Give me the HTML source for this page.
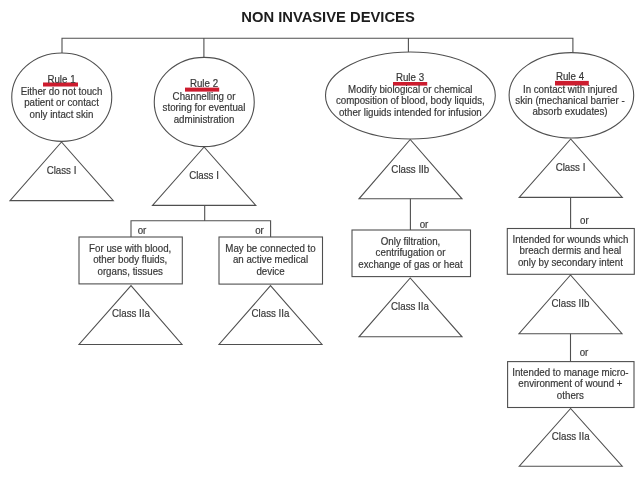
<!DOCTYPE html>
<html><head><meta charset="utf-8"><title>Non invasive devices</title>
<style>
html,body{margin:0;padding:0;background:#fff;}
body{width:640px;height:480px;overflow:hidden;}
svg{display:block;font-family:"Liberation Sans",sans-serif;}
.s *{fill:none;stroke:#505050;stroke-width:1.1;}
.t text{fill:#363636;stroke:#363636;stroke-width:0.36;}
.r rect{fill:#cc1a2e;}
</style></head><body>
<svg width="640" height="480" viewBox="0 0 640 480">
<defs><filter id="bl" x="0" y="0" width="640" height="480" filterUnits="userSpaceOnUse"><feGaussianBlur stdDeviation="0.75"/></filter><filter id="bt" x="0" y="0" width="640" height="480" filterUnits="userSpaceOnUse"><feGaussianBlur stdDeviation="0.38"/></filter></defs>
<rect width="640" height="480" fill="#fff"/>
<g class="s" filter="url(#bl)">
<path d="M62,53 V38.3 H572.9 V53 M203.9,38.3 V58 M408.4,38.3 V52"/>
<ellipse cx="61.75" cy="97.2" rx="50" ry="44.2"/>
<ellipse cx="204.25" cy="102" rx="50" ry="44.6"/>
<ellipse cx="410.4" cy="95.5" rx="84.9" ry="43.5"/>
<ellipse cx="571.4" cy="95.3" rx="62.3" ry="42.7"/>
<polygon points="61.5,142 10,200.6 113.3,200.6"/>
<polygon points="204.1,147 152.5,205.4 255.8,205.4"/>
<polygon points="410.2,139.5 359,198.8 462,198.8"/>
<polygon points="570.7,139 519.2,197.4 622.3,197.4"/>
<polygon points="131,285.6 79,344.5 182,344.5"/>
<polygon points="270.5,285.7 219,344.5 322,344.5"/>
<polygon points="410.2,278 359,336.8 462,336.8"/>
<polygon points="570.5,275 519,333.7 622,333.7"/>
<polygon points="570.6,408.5 519.3,466.2 622.2,466.2"/>
<path d="M204.7,205.4 V220.7 M131,237 V220.7 H270.6 V237 M410.4,198.800 V230 M570.6,197.4 V228.500 M570.5,333.7 V361.6"/>
<rect x="79" y="237" width="103.3" height="46.9"/>
<rect x="219" y="237" width="103.5" height="47.1"/>
<rect x="352" y="230" width="118.5" height="46.6"/>
<rect x="507.3" y="228.500" width="127" height="45.8"/>
<rect x="507.6" y="361.6" width="126.400" height="45.9"/>
</g>
<g class="r" filter="url(#bl)">
<rect x="43" y="82.5" width="35" height="4"/>
<rect x="185" y="87.6" width="34.2" height="4"/>
<rect x="393" y="82" width="34.2" height="3.6"/>
<rect x="555" y="80.9" width="33.8" height="4.6"/>
</g>
<g class="t" filter="url(#bt)">
<text transform="translate(328,21.5) scale(0.7375,0.7564)" font-size="20" text-anchor="middle" font-weight="bold" style="fill:#1c1c1c;stroke:none">NON INVASIVE DEVICES</text>
<text transform="translate(61.5,82.6) scale(0.4875,0.5)" font-size="20" text-anchor="middle">Rule 1</text>
<text transform="translate(61.5,94.6) scale(0.4875,0.5)" font-size="20" text-anchor="middle">Either do not touch</text>
<text transform="translate(61.5,106.2) scale(0.4875,0.5)" font-size="20" text-anchor="middle">patient or contact</text>
<text transform="translate(61.5,117.8) scale(0.4875,0.5)" font-size="20" text-anchor="middle">only intact skin</text>
<text transform="translate(204,86.6) scale(0.4875,0.5)" font-size="20" text-anchor="middle">Rule 2</text>
<text transform="translate(204,99.6) scale(0.4875,0.5)" font-size="20" text-anchor="middle">Channelling or</text>
<text transform="translate(204,111.2) scale(0.4875,0.5)" font-size="20" text-anchor="middle">storing for eventual</text>
<text transform="translate(204,122.8) scale(0.4875,0.5)" font-size="20" text-anchor="middle">administration</text>
<text transform="translate(410,80.5) scale(0.4875,0.5)" font-size="20" text-anchor="middle">Rule 3</text>
<text transform="translate(410.3,93.0) scale(0.4875,0.5)" font-size="20" text-anchor="middle">Modify biological or chemical</text>
<text transform="translate(410.3,104.4) scale(0.4875,0.5)" font-size="20" text-anchor="middle">composition of blood, body liquids,</text>
<text transform="translate(410.3,115.8) scale(0.4875,0.5)" font-size="20" text-anchor="middle">other liguids intended for infusion</text>
<text transform="translate(570,80.2) scale(0.4875,0.5)" font-size="20" text-anchor="middle">Rule 4</text>
<text transform="translate(570,92.7) scale(0.4875,0.5)" font-size="20" text-anchor="middle">In contact with injured</text>
<text transform="translate(570,104.0) scale(0.4875,0.5)" font-size="20" text-anchor="middle">skin (mechanical barrier -</text>
<text transform="translate(570,115.3) scale(0.4875,0.5)" font-size="20" text-anchor="middle">absorb exudates)</text>
<text transform="translate(61.5,174.2) scale(0.4875,0.5)" font-size="20" text-anchor="middle">Class I</text>
<text transform="translate(204,179.2) scale(0.4875,0.5)" font-size="20" text-anchor="middle">Class I</text>
<text transform="translate(410.3,172.7) scale(0.4875,0.5)" font-size="20" text-anchor="middle">Class IIb</text>
<text transform="translate(570.5,171) scale(0.4875,0.5)" font-size="20" text-anchor="middle">Class I</text>
<text transform="translate(131,317.4) scale(0.4875,0.5)" font-size="20" text-anchor="middle">Class IIa</text>
<text transform="translate(270.5,317.4) scale(0.4875,0.5)" font-size="20" text-anchor="middle">Class IIa</text>
<text transform="translate(410,310.4) scale(0.4875,0.5)" font-size="20" text-anchor="middle">Class IIa</text>
<text transform="translate(570.5,307.4) scale(0.4875,0.5)" font-size="20" text-anchor="middle">Class IIb</text>
<text transform="translate(570.7,439.8) scale(0.4875,0.5)" font-size="20" text-anchor="middle">Class IIa</text>
<text transform="translate(142,233.8) scale(0.4875,0.5)" font-size="20" text-anchor="middle">or</text>
<text transform="translate(259.5,233.8) scale(0.4875,0.5)" font-size="20" text-anchor="middle">or</text>
<text transform="translate(424,227.7) scale(0.4875,0.5)" font-size="20" text-anchor="middle">or</text>
<text transform="translate(584.3,224.2) scale(0.4875,0.5)" font-size="20" text-anchor="middle">or</text>
<text transform="translate(584,356.3) scale(0.4875,0.5)" font-size="20" text-anchor="middle">or</text>
<text transform="translate(130.2,251.7) scale(0.4875,0.5)" font-size="20" text-anchor="middle">For use with blood,</text>
<text transform="translate(130.2,263.2) scale(0.4875,0.5)" font-size="20" text-anchor="middle">other body fluids,</text>
<text transform="translate(130.2,274.7) scale(0.4875,0.5)" font-size="20" text-anchor="middle">organs, tissues</text>
<text transform="translate(270.5,251.7) scale(0.4875,0.5)" font-size="20" text-anchor="middle">May be connected to</text>
<text transform="translate(270.5,263.2) scale(0.4875,0.5)" font-size="20" text-anchor="middle">an active medical</text>
<text transform="translate(270.5,274.7) scale(0.4875,0.5)" font-size="20" text-anchor="middle">device</text>
<text transform="translate(410.5,244.7) scale(0.4875,0.5)" font-size="20" text-anchor="middle">Only filtration,</text>
<text transform="translate(410.5,256.2) scale(0.4875,0.5)" font-size="20" text-anchor="middle">centrifugation or</text>
<text transform="translate(410.5,267.7) scale(0.4875,0.5)" font-size="20" text-anchor="middle">exchange of gas or heat</text>
<text transform="translate(570.4,242.8) scale(0.4875,0.5)" font-size="20" text-anchor="middle">Intended for wounds which</text>
<text transform="translate(570.4,254.3) scale(0.4875,0.5)" font-size="20" text-anchor="middle">breach dermis and heal</text>
<text transform="translate(570.4,265.8) scale(0.4875,0.5)" font-size="20" text-anchor="middle">only by secondary intent</text>
<text transform="translate(570.4,375.9) scale(0.4875,0.5)" font-size="20" text-anchor="middle">Intended to manage micro-</text>
<text transform="translate(570.4,387.4) scale(0.4875,0.5)" font-size="20" text-anchor="middle">environment of wound +</text>
<text transform="translate(570.4,398.9) scale(0.4875,0.5)" font-size="20" text-anchor="middle">others</text>
</g>
</svg>
</body></html>
